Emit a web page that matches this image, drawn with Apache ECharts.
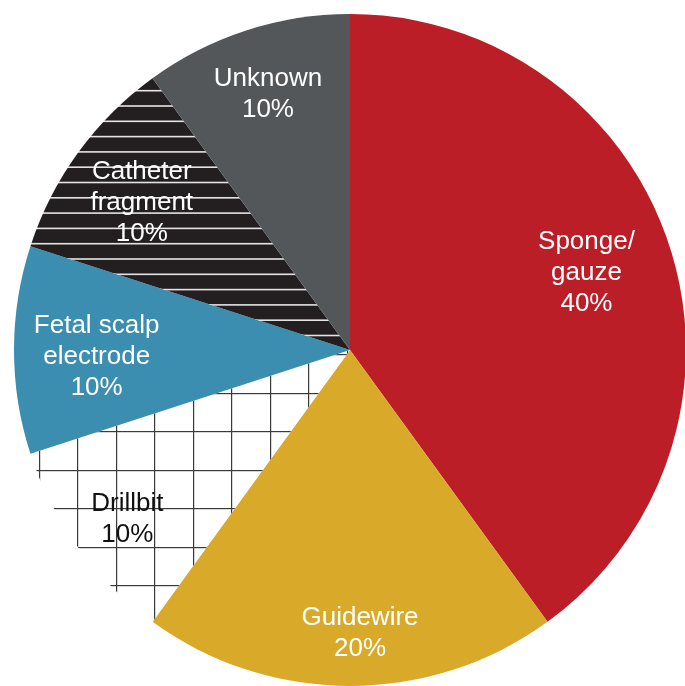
<!DOCTYPE html>
<html>
<head>
<meta charset="utf-8">
<script src="https://cdn.jsdelivr.net/npm/echarts@6/dist/echarts.min.js"></script>
<style>
html,body{margin:0;padding:0;background:#fff;}
#chart{width:685px;height:686px;}
</style>
</head>
<body>
<div id="chart"></div>
<script>
// ---- data ----
const categories = ['Sponge/\ngauze', 'Guidewire', 'Drillbit', 'Fetal scalp\nelectrode', 'Catheter\nfragment', 'Unknown'];
const values = [40, 20, 10, 10, 10, 10];
const percentLabels = ['40%', '20%', '10%', '10%', '10%', '10%'];

// ---- styles ----
const CX = 350, CY = 350, R = 336;
const labelRadialFrac = [0.74, 0.83, 0.83, 0.745, 0.755, 0.80];
const labelNudge = [[0, 0], [10, 4], [3, 5], [-3, 7], [-3, 2], [1, 0]];

function makeGrid() {
  const c = document.createElement('canvas');
  const s = 385; c.width = s; c.height = s;
  const g = c.getContext('2d');
  g.fillStyle = '#ffffff'; g.fillRect(0, 0, s, s);
  g.fillStyle = '#3a3a3a';
  for (let k = 0; k < 10; k++) {
    const x = Math.floor(0.5 + 38.5 * k);
    g.fillRect(x, 0, 1.2, s);
    const y = Math.floor(8 + 38.5 * k);
    g.fillRect(0, y, s, 1.2);
  }
  return c;
}
function makeStripes() {
  const c = document.createElement('canvas');
  const h = 153; c.width = 64; c.height = h;
  const g = c.getContext('2d');
  g.fillStyle = '#231f20'; g.fillRect(0, 0, 64, h);
  g.fillStyle = '#e4e4e4';
  for (let k = 0; k < 10; k++) {
    const y = 14.2 + 15.3 * k - 0.8;
    g.fillRect(0, y, 64, 1.6);
  }
  return c;
}

const colors = [
  '#bb1e26',
  '#d9aa2a',
  {image: makeGrid(), repeat: 'repeat'},
  '#3b8eaf',
  {image: makeStripes(), repeat: 'repeat'},
  '#54575a'
];
const textColors = ['#fff', '#fff', '#111', '#fff', '#fff', '#fff'];

const total = values.reduce((a, b) => a + b, 0);
const midAngles = [];
let cum = 0;
values.forEach(v => { midAngles.push((90 - (cum + v / 2) / total * 360) * Math.PI / 180); cum += v; });

const chart = echarts.init(document.getElementById('chart'), null, {renderer: 'canvas'});
chart.setOption({
  animation: false,
  series: [{
    type: 'pie',
    center: [CX, CY],
    radius: [0, R],
    startAngle: 90,
    clockwise: true,
    silent: true,
    label: {
      show: true,
      position: 'inside',
      fontFamily: 'Liberation Sans, Arial, sans-serif',
      fontSize: 26,
      lineHeight: 31,
      align: 'center',
      formatter: p => p.name + '\n' + percentLabels[p.dataIndex]
    },
    labelLayout: function (p) {
      const i = p.dataIndex;
      const a = midAngles[i];
      return {
        x: CX + labelRadialFrac[i] * R * Math.cos(a) + labelNudge[i][0],
        y: CY - labelRadialFrac[i] * R * Math.sin(a) + labelNudge[i][1],
        align: 'center',
        verticalAlign: 'middle'
      };
    },
    labelLine: {show: false},
    data: categories.map((n, i) => ({
      name: n,
      value: values[i],
      itemStyle: {color: colors[i], borderWidth: 0},
      label: {color: textColors[i]}
    }))
  }]
});
</script>
</body>
</html>
